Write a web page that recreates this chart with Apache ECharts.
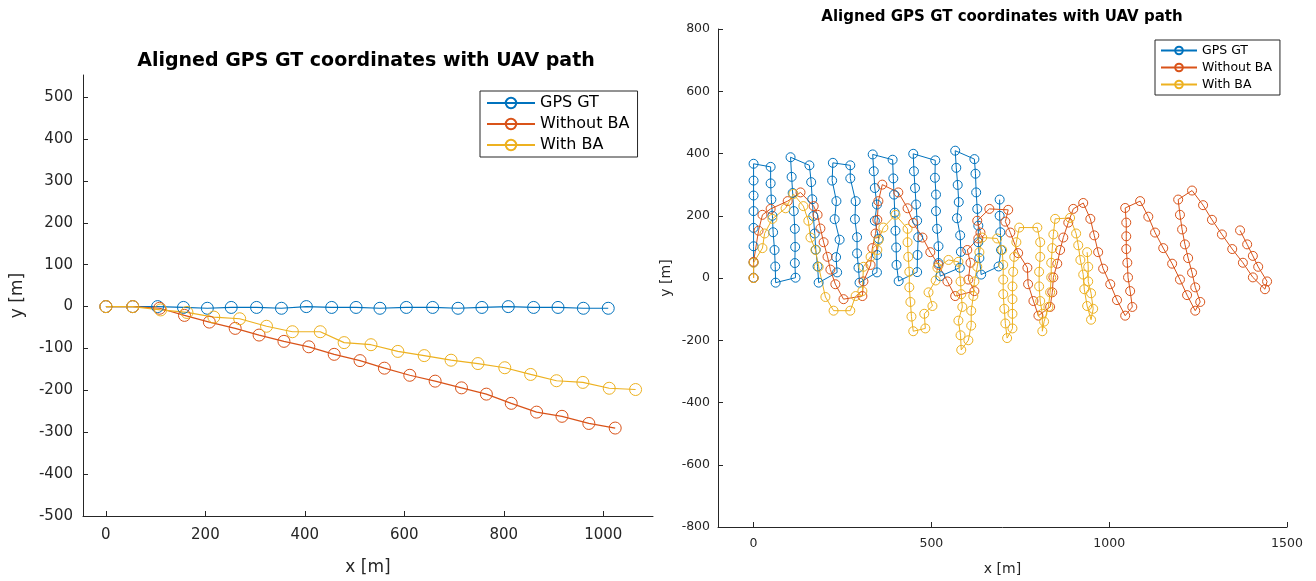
<!DOCTYPE html>
<html>
<head>
<meta charset="utf-8">
<script src="https://cdn.jsdelivr.net/npm/echarts@6/dist/echarts.min.js"></script>
<style>
html, body { margin: 0; padding: 0; background: #fff; }
#chart { width: 1316px; height: 581px; }
</style>
</head>
<body>
<div id="chart"></div>
<script>
// ---- Left panel: straight flight line, [x, y] in metres ----
const leftGpsGT = [[0,0],[54,0],[104,0],[156,-2],[204,-4],[252,-2],[303,-2],[353,-4],[403,0],[454,-2],[503,-2],[551,-4],[604,-2],[657,-2],[708,-4],[756,-2],[809,0],[860,-2],[909,-2],[960,-4],[1010,-4]];
const leftWithoutBA = [[0,0],[54,0],[108,-4],[158,-21],[208,-37],[260,-52],[308,-68],[358,-83],[408,-96],[459,-114],[511,-129],[560,-147],[611,-164],[662,-178],[715,-194],[765,-209],[815,-231],[866,-252],[917,-262],[971,-279],[1024,-290]];
const leftWithBA = [[0,0],[54,0],[110,-8],[163,-14],[217,-25],[269,-29],[323,-47],[375,-60],[431,-60],[479,-86],[533,-91],[587,-107],[640,-117],[694,-128],[748,-136],[802,-146],[854,-162],[906,-177],[959,-181],[1012,-195],[1065,-198]];

// ---- Right panel: lawnmower survey, [x, y] in metres ----
const rightGpsGT = [
  [0,1],[0,50],[0,102],[0,161],[0,215],[0,265],[0,313],[0,367],
  [48,357],[48,304],[50,252],[53,200],[55,147],[59,90],[61,37],[62,-15],
  [118,1],[116,48],[117,100],[116,158],[113,215],[110,273],[107,325],[104,388],
  [157,362],[162,308],[165,253],[168,199],[172,143],[175,91],[180,37],[183,-15],
  [235,18],[232,67],[242,123],[228,189],[233,247],[221,313],[223,370],
  [272,362],[272,320],[287,247],[285,189],[291,131],[291,79],[295,33],[298,-15],
  [347,18],[347,74],[352,126],[341,184],[347,236],[341,289],[338,343],[335,397],
  [391,380],[393,320],[395,268],[397,210],[399,152],[401,98],[402,42],[408,-10],
  [460,19],[461,74],[463,131],[460,184],[457,236],[454,289],[451,343],[449,399],
  [511,378],[510,322],[513,268],[513,215],[516,158],[520,102],[520,48],[525,6],
  [580,33],[583,84],[581,137],[572,192],[577,244],[574,299],[570,354],[567,409],
  [621,382],[624,335],[626,275],[629,222],[632,168],[632,115],[635,64],[640,11],
  [689,37],[696,90],[694,147],[692,200],[692,252]
];
const rightWithoutBA = [
  [0,0],[0,52],[14,152],[25,203],[48,222],[96,247],[132,275],
  [169,231],[180,203],[188,159],[197,115],[208,68],[216,27],[230,-20],[253,-68],
  [306,-58],[309,-11],[329,42],[334,96],[343,143],[348,187],[351,247],[362,300],
  [407,275],[433,224],[449,177],[475,130],[497,83],[520,42],[545,-11],[567,-58],
  [621,-42],[604,-5],[610,49],[601,90],[632,127],[638,146],[629,184],[663,222],[716,219],
  [708,181],[722,146],[744,80],[770,33],[772,-20],[787,-74],[801,-121],
  [834,-93],[840,-46],[843,2],[854,46],[862,90],[871,130],[885,178],[899,222],[927,241],
  [947,190],[958,137],[969,83],[983,30],[1003,-20],[1022,-71],[1045,-121],
  [1065,-93],[1059,-42],[1053,2],[1051,49],[1048,93],[1048,134],[1048,178],[1045,225],[1087,247],
  [1110,197],[1129,146],[1152,96],[1177,46],[1199,-5],[1219,-55],[1242,-105],
  [1256,-77],[1242,-30],[1233,17],[1222,64],[1213,108],[1205,156],[1199,203],[1194,252],[1233,281],
  [1264,234],[1289,187],[1317,140],[1346,93],[1376,49],[1404,2],[1438,-36],
  [1444,-11],[1419,36],[1404,71],[1388,108],[1368,153]
];
const rightWithBA = [
  [0,0],[0,49],[25,96],[31,143],[53,190],[90,224],[112,270],
  [140,231],[154,184],[160,130],[174,90],[183,36],[202,-61],[225,-105],[272,-105],
  [287,-58],[306,-42],[309,36],[329,68],[348,90],[351,121],[365,162],[399,203],
  [433,158],[433,115],[435,68],[438,20],[438,-30],[441,-77],[444,-124],[449,-171],
  [483,-162],[480,-115],[503,-90],[492,-46],[512,-8],[517,33],[548,58],[576,52],
  [582,-11],[584,-52],[587,-93],[576,-137],[582,-184],[584,-231],
  [604,-200],[612,-153],[612,-105],[618,-58],[621,-11],[629,36],[635,83],[643,130],[685,127],
  [699,90],[702,42],[702,-5],[702,-52],[705,-99],[708,-146],[713,-193],
  [728,-162],[728,-115],[728,-68],[728,-27],[730,20],[733,68],[739,115],[747,162],[798,162],
  [806,115],[806,68],[803,20],[803,-27],[806,-74],[812,-115],[812,-171],
  [817,-140],[829,-93],[834,-46],[837,2],[837,49],[840,96],[843,140],[848,190],[890,193],
  [907,143],[913,105],[919,58],[927,11],[930,-36],[938,-90],[949,-134],
  [955,-99],[949,-49],[941,-11],[941,36],[938,83]
];

// ---- Tick labels ----
const leftXTicks = [0, 200, 400, 600, 800, 1000];
const leftYTicks = [-500, -400, -300, -200, -100, 0, 100, 200, 300, 400, 500];
const rightXTicks = [0, 500, 1000, 1500];
const rightYTicks = [-800, -600, -400, -200, 0, 200, 400, 600, 800];

const seriesNames = ['GPS GT', 'Without BA', 'With BA'];
const titleText = 'Aligned GPS GT coordinates with UAV path';

const FONT = 'DejaVu Sans';
const INK = '#262626';
const COLORS = ['#0072BD', '#D95319', '#EDB120'];

function pathSeries(name, data, color, panel, size, width) {
  return {
    type: 'line', name: name, data: data,
    xAxisIndex: panel, yAxisIndex: panel,
    symbol: 'circle', symbolSize: size,
    itemStyle: { color: 'rgba(255,255,255,0)', borderColor: color, borderWidth: 1 },
    lineStyle: { color: color, width: width },
    emphasis: { disabled: true }, silent: true, animation: false
  };
}

function valueAxis(grid, min, max, ticks, fontSize, name, nameGap, nameSize, margin) {
  return {
    gridIndex: grid, type: 'value', min: min, max: max,
    axisLine: { show: true, onZero: false, lineStyle: { color: INK, width: 1 } },
    axisTick: { show: true, inside: true, length: 5, customValues: ticks, lineStyle: { color: INK } },
    axisLabel: {
      customValues: ticks, fontSize: fontSize, color: INK, fontFamily: FONT, margin: margin,
      formatter: function (v) { return String(v); }
    },
    splitLine: { show: false },
    name: name, nameLocation: 'middle', nameGap: nameGap,
    nameTextStyle: { fontSize: nameSize, color: INK, fontFamily: FONT }
  };
}

function legendBox(left, top, fontSize, itemWidth, gap, pad) {
  return {
    data: seriesNames, orient: 'vertical', left: left, top: top,
    itemWidth: itemWidth, itemHeight: fontSize - 3, itemGap: gap,
    padding: pad,
    borderColor: INK, borderWidth: 1, backgroundColor: '#fff',
    textStyle: { fontSize: fontSize, color: '#000', fontFamily: FONT },
    selectedMode: false
  };
}

const chart = echarts.init(document.getElementById('chart'), null, { renderer: 'canvas' });
chart.setOption({
  animation: false,
  backgroundColor: '#fff',
  grid: [
    { left: 83, top: 75, width: 570, height: 451, containLabel: false },
    { left: 718, top: 29, width: 569, height: 509, containLabel: false }
  ],
  xAxis: [
    valueAxis(0, -46, 1100, leftXTicks, 15, 'x [m]', 43, 17, 12),
    valueAxis(1, -100, 1500, rightXTicks, 12.5, 'x [m]', 35, 14, 10)
  ],
  yAxis: [
    valueAxis(0, -500, 553, leftYTicks, 15, 'y [m]', 57, 17, 10),
    valueAxis(1, -800, 800, rightYTicks, 12.5, 'y [m]', 45, 14, 8)
  ],
  legend: [
    legendBox(480, 91, 16, 48, 5, [4, 8, 4, 6]),
    legendBox(1155, 40, 12.5, 36, 4, [4, 8, 4, 5])
  ],
  graphic: [
    { type: 'text', x: 366, y: 61, style: { text: titleText, font: 'bold 19px "DejaVu Sans"', fill: '#000', textAlign: 'center', textVerticalAlign: 'middle' } },
    { type: 'text', x: 1002, y: 17, style: { text: titleText, font: 'bold 15px "DejaVu Sans"', fill: '#000', textAlign: 'center', textVerticalAlign: 'middle' } }
  ],
  series: [
    pathSeries(seriesNames[0], leftGpsGT, COLORS[0], 0, 12, 1.2),
    pathSeries(seriesNames[1], leftWithoutBA, COLORS[1], 0, 12, 1.2),
    pathSeries(seriesNames[2], leftWithBA, COLORS[2], 0, 12, 1.2),
    pathSeries(seriesNames[0], rightGpsGT, COLORS[0], 1, 9, 1),
    pathSeries(seriesNames[1], rightWithoutBA, COLORS[1], 1, 9, 1),
    pathSeries(seriesNames[2], rightWithBA, COLORS[2], 1, 9, 1)
  ]
});
</script>
</body>
</html>
